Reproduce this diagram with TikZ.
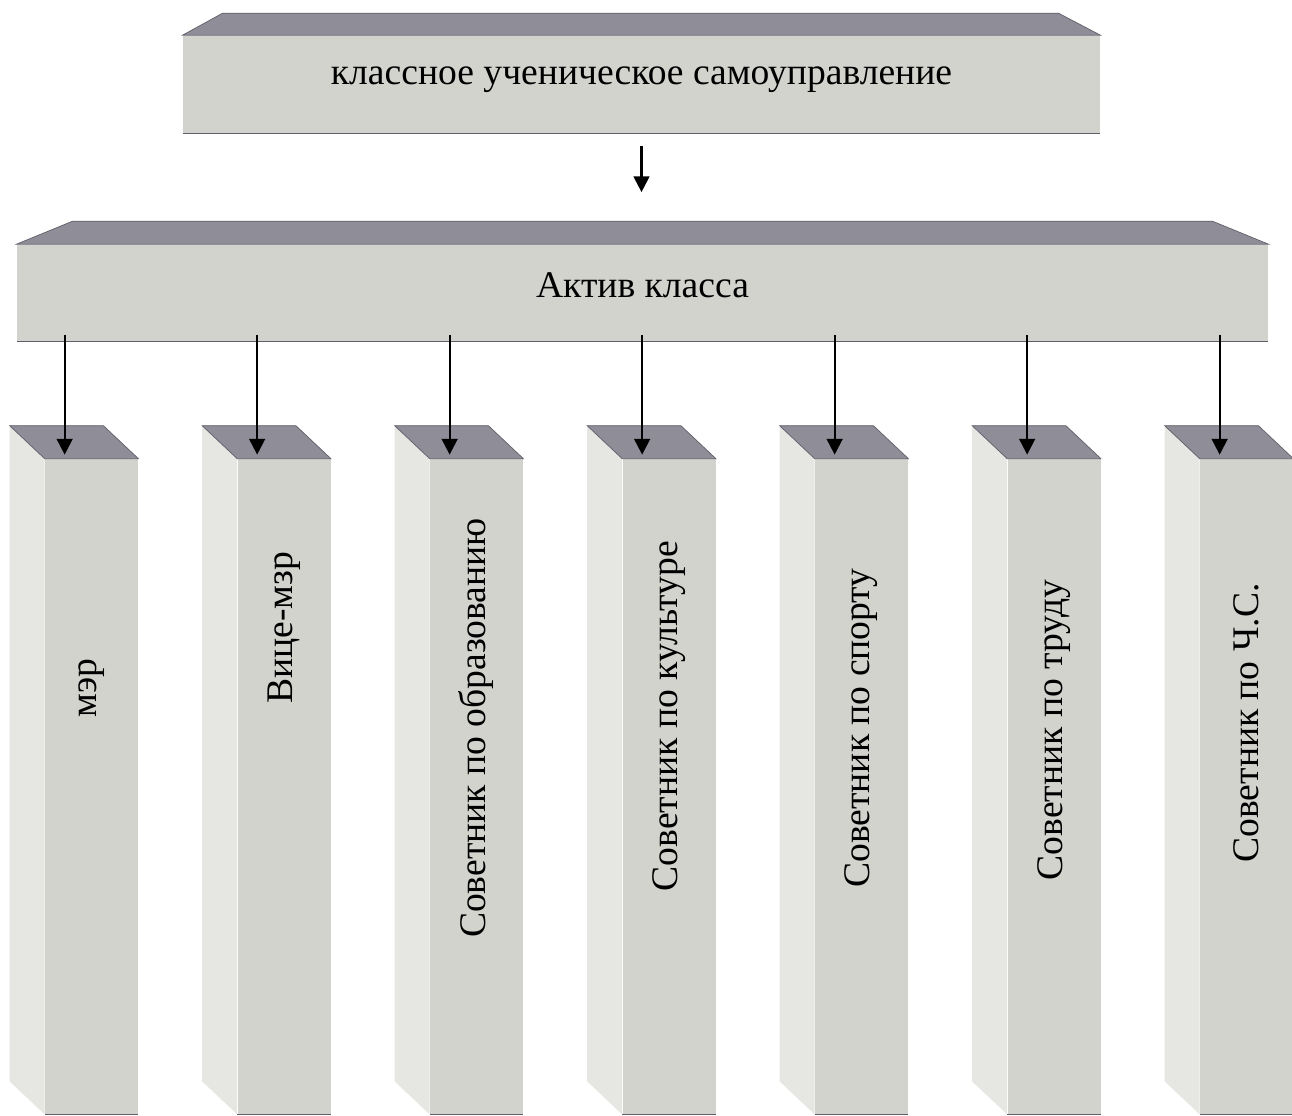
\documentclass[tikz,border=0pt]{standalone}
\usepackage{fontspec}
\setmainfont{Liberation Serif}
\usepackage{xcolor}
\usepackage{tikz}
\usetikzlibrary{calc,arrows.meta}

\newcommand{\pxu}{0.02cm}
\definecolor{frontgray}{RGB}{210,211,205}
\definecolor{sidegray}{RGB}{230,231,226}
\definecolor{topgray}{RGB}{142,141,152}
\definecolor{edgegray}{RGB}{95,95,105}

\begin{document}
\begin{tikzpicture}[x=\pxu,y=-\pxu,
  front/.style={fill=frontgray,inner sep=0pt,font=\fontsize{21.4}{26}\selectfont},
  topface/.style={fill=topgray,draw=edgegray,line width=0.4pt},
  sideface/.style={fill=sidegray},
  arr/.style={-{Triangle[width=9pt,length=9pt]},line width=1.2pt,black}]
\fill[white] (0,0) rectangle (1292,1116);
\useasboundingbox (0,0) rectangle (1292,1116);
% top box
\node[front,minimum width={917*\pxu},minimum height={98*\pxu},text depth=10pt] (sam) at (641.5,84.5) {классное ученическое самоуправление};
\fill[topface] (sam.north west) -- ($(sam.north west)+(40,-22)$) -- ($(sam.north east)+(-42,-22)$) -- (sam.north east) -- cycle;
\draw[edgegray,line width=0.6pt] (sam.south west) -- (sam.south east);
% class board
\node[front,minimum width={1251*\pxu},minimum height={97*\pxu},text depth=9pt] (aktiv) at (642.5,293) {Актив класса};
\fill[topface] (aktiv.north west) -- ($(aktiv.north west)+(56,-23)$) -- ($(aktiv.north east)+(-56,-23)$) -- (aktiv.north east) -- cycle;
\draw[edgegray,line width=0.6pt] (aktiv.south west) -- (aktiv.south east);
\draw[arr] ($(sam.south)+(0,12)$) -- ($(sam.south |- aktiv.north)+(0,-52)$);
% columns
\foreach \i/\txt/\ty in {0/мэр/688,1/Вице-мзр/628,2/Советник по образованию/728,3/Советник по культуре/716,4/Советник по спорту/728,5/Советник по труду/730,6/Советник по Ч.С./723}{
  \node[front,minimum width={93*\pxu},minimum height={655*\pxu}] (col\i) at (91.5+192.5*\i,786.5) {};
  \fill[sideface] (col\i.north west) -- ($(col\i.north west)+(-35,-33)$) -- ($(col\i.south west)+(-35,-33)$) -- (col\i.south west) -- cycle;
  \fill[topface] (col\i.north west) -- ($(col\i.north west)+(-35,-33)$) -- ($(col\i.north east)+(-35,-33)$) -- (col\i.north east) -- cycle;
  \draw[edgegray,line width=0.6pt] (col\i.south west) -- (col\i.south east);
  \node[font=\fontsize{21.4}{26}\selectfont,rotate=90] (lab\i) at (col\i.center |- 0,\ty) {\txt};
  \coordinate (tip\i) at ($(col\i.north west)+(20,-4)$);
  \draw[arr] ($(aktiv.south -| tip\i)+(0,-7)$) -- (tip\i);
}
\end{tikzpicture}
\end{document}
